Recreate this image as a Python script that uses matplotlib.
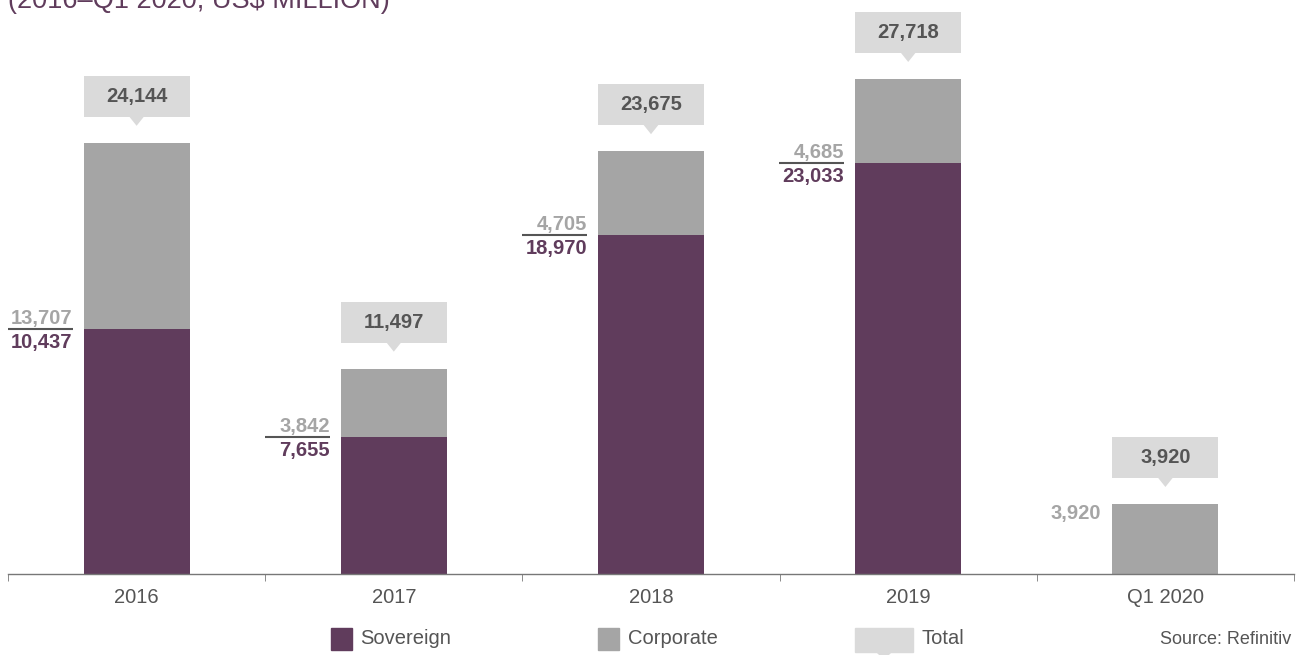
import matplotlib
matplotlib.use("Agg")
import matplotlib.pyplot as plt
from matplotlib.patches import Rectangle, Polygon

plt.rcParams['font.family'] = ['Liberation Sans', 'DejaVu Sans']

# data
years = ["2016", "2017", "2018", "2019", "Q1 2020"]
sovereign = [13707, 7655, 18970, 23033, 0]
corporate = [10437, 3842, 4705, 4685, 3920]
totals = [24144, 11497, 23675, 27718, 3920]
sov_labels = ["10,437", "7,655", "18,970", "23,033", ""]
corp_labels = ["13,707", "3,842", "4,705", "4,685", "3,920"]

PURPLE = "#603c5c"
GREY = "#a5a5a5"
LIGHT = "#dadada"
TEXT = "#555555"

W, H = 1301, 655
fig = plt.figure(figsize=(W / 100, H / 100), dpi=100)
ax = fig.add_axes([8 / W, 81 / H, 1286 / W, 574 / H])

YMAX = 32140
ax.set_xlim(-0.5, 4.5)
ax.set_ylim(0, YMAX)
px_x = 5 / 1286      # data units per pixel (x)
px_y = YMAX / 574    # data units per pixel (y)

bw = 106 * px_x
xs = list(range(len(years)))
ax.bar(xs, sovereign, width=bw, color=PURPLE, zorder=2)
ax.bar(xs, corporate, width=bw, bottom=sovereign, color=GREY, zorder=2)

for i in xs:
    left = i - bw / 2
    tx = left - 11 * px_x
    if sovereign[i] > 0:
        y0 = sovereign[i]
        ax.plot([tx - 65 * px_x, tx], [y0, y0], color=TEXT, lw=1.5,
                clip_on=False, solid_capstyle="butt")
        ax.text(tx, y0 + 5 * px_y, corp_labels[i], ha="right", va="baseline",
                color=GREY, fontsize=14.5, fontweight="bold")
        ax.text(tx, y0 - 4 * px_y, sov_labels[i], ha="right", va="top",
                color=PURPLE, fontsize=14.5, fontweight="bold")
    else:
        ax.text(tx, totals[i] - 10 * px_y, corp_labels[i], ha="right",
                va="center", color=GREY, fontsize=14.5, fontweight="bold")

    # total callout
    top = sovereign[i] + corporate[i]
    tip = top + 17 * px_y
    base = top + 26 * px_y
    ax.add_patch(Polygon([[i - 8 * px_x, base + px_y], [i + 8 * px_x, base + px_y],
                          [i, tip]], closed=True, color=LIGHT, lw=0,
                         clip_on=False))
    ax.add_patch(Rectangle((left, base), bw, 41 * px_y, color=LIGHT, lw=0,
                           clip_on=False))
    ax.text(i, base + 20.5 * px_y, f"{totals[i]:,}", ha="center",
            va="center", color=TEXT, fontsize=14.5, fontweight="bold",
            clip_on=False)

for s in ["top", "right", "left"]:
    ax.spines[s].set_visible(False)
ax.spines["bottom"].set_color("#777777")
ax.spines["bottom"].set_linewidth(1)
ax.set_yticks([])
ax.set_xticks(xs)
ax.set_xticklabels(years, fontsize=14.5, color=TEXT)
ax.tick_params(axis="x", which="major", length=0, pad=10)
ax.set_xticks([x - 0.5 for x in xs] + [4.5], minor=True)
ax.tick_params(axis="x", which="minor", length=5, color="#777777")

# title (cut off at top, as in the source image)
fig.text(8 / W, 1 - 8 / H, "(2016\u2013Q1 2020, US$ MILLION)", ha="left",
         va="baseline", color=PURPLE, fontsize=19.5)

# legend
def fx(p):
    return p / W

def fy(p):
    return 1 - p / H

fig.patches.append(Rectangle((fx(331), fy(650)), 21 / W, 22 / H,
                             color=PURPLE, transform=fig.transFigure))
fig.text(fx(360), fy(638), "Sovereign", va="center", color=TEXT, fontsize=14.5)
fig.patches.append(Rectangle((fx(598), fy(650)), 21 / W, 22 / H,
                             color=GREY, transform=fig.transFigure))
fig.text(fx(628), fy(638), "Corporate", va="center", color=TEXT, fontsize=14.5)
fig.patches.append(Rectangle((fx(855), fy(652)), 58 / W, 24 / H,
                             color=LIGHT, transform=fig.transFigure))
fig.patches.append(Polygon([[fx(877), fy(652)], [fx(891), fy(652)],
                            [fx(884), fy(659)]], closed=True, color=LIGHT,
                           transform=fig.transFigure))
fig.text(fx(922), fy(638), "Total", va="center", color=TEXT, fontsize=14.5)
fig.text(fx(1291), fy(639), "Source: Refinitiv", ha="right", va="center",
         color=TEXT, fontsize=13)

fig.savefig("out.png", dpi=100)
